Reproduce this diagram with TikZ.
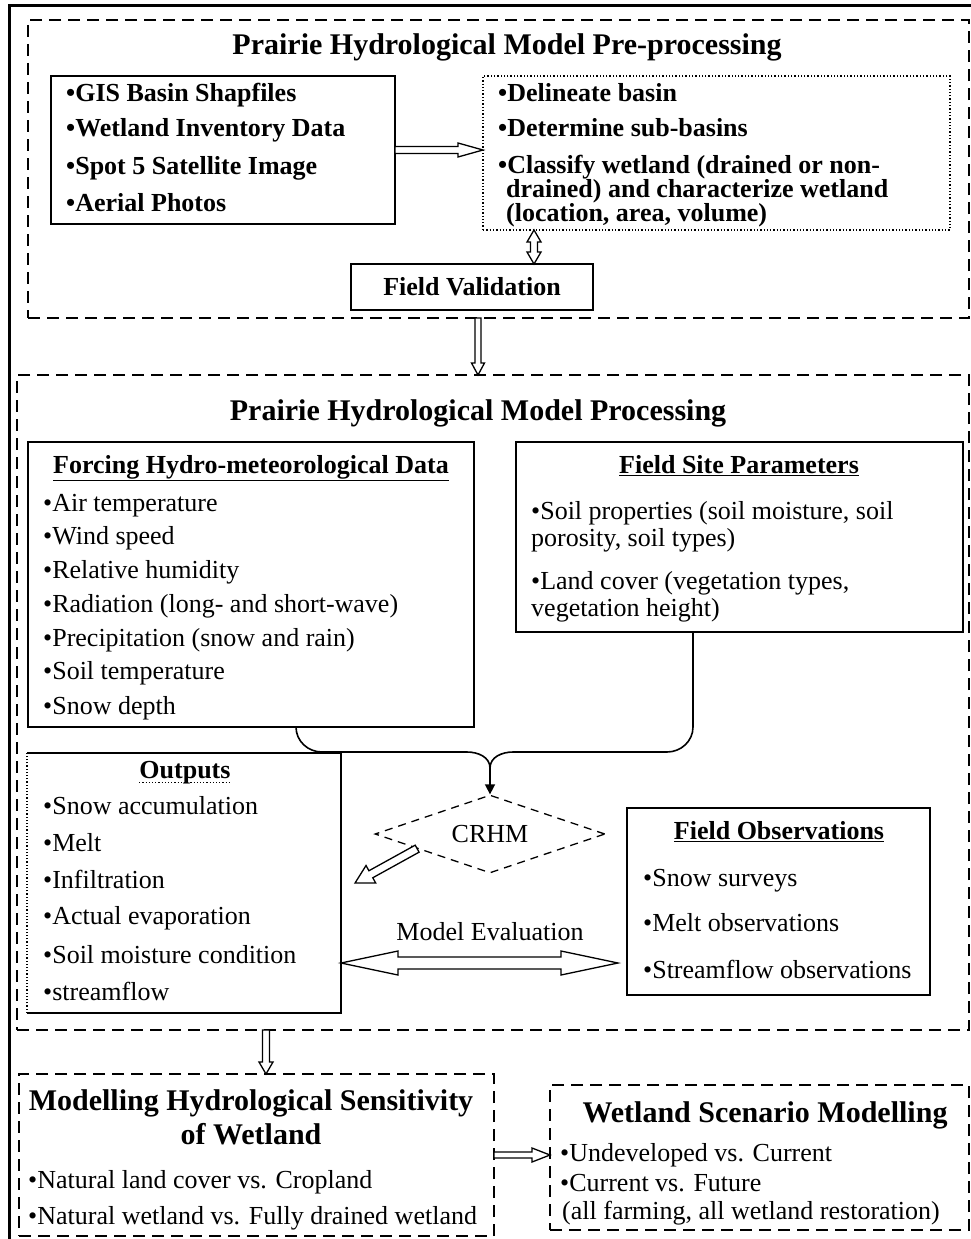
\documentclass[tikz,border=0pt]{standalone}
\usepackage{fontspec}
\setmainfont{Liberation Serif}
\usetikzlibrary{shapes.geometric,arrows.meta,calc}

\newcommand\fsA{\fontsize{26}{30}\selectfont}
\newcommand\fsT{\fontsize{30}{36}\selectfont\bfseries}
\newcommand\fsTight{\fontsize{26}{24}\selectfont\bfseries\lineskiplimit -30pt\relax}

\tikzset{
 frame/.style={draw, line width=2.4pt, dash pattern=on 12pt off 7pt, inner sep=0, outer sep=0},
 sbox/.style={draw, line width=1.5pt, inner sep=0, outer sep=0},
 dbox/.style={draw, line width=1.3pt, dotted, inner sep=0, outer sep=0},
 item/.style={anchor=west, inner sep=0, text height=18pt, text depth=5pt, font=\fsA},
 bitem/.style={item, font=\fsA\bfseries},
 ttl/.style={inner sep=0, text height=21pt, text depth=6pt, font=\fsT},
 head/.style={inner sep=0, text height=18pt, text depth=5pt, font=\fsA\bfseries},
 hol/.style={draw, line width=1.3pt, fill=white, line join=miter},
 conn/.style={draw, line width=1.6pt},
}

% hollow single arrow: from, to, shaft half width, head half width, head length
\newcommand\harrow[5]{%
 \draw[hol] let \p1=(#1), \p2=(#2), \n1={atan2(\y2-\y1,\x2-\x1)}, \n2={veclen(\x2-\x1,\y2-\y1)} in
 [shift={(\p1)}, rotate=\n1]
 (0pt,#3pt) -- ({\n2-#5pt},#3pt) -- ({\n2-#5pt},#4pt) -- (\n2,0pt)
 -- ({\n2-#5pt},-#4pt) -- ({\n2-#5pt},-#3pt) -- (0pt,-#3pt) -- cycle;}
% hollow double-headed arrow
\newcommand\hdarrow[5]{%
 \draw[hol] let \p1=(#1), \p2=(#2), \n1={atan2(\y2-\y1,\x2-\x1)}, \n2={veclen(\x2-\x1,\y2-\y1)} in
 [shift={(\p1)}, rotate=\n1]
 (0pt,0pt) -- (#5pt,#4pt) -- (#5pt,#3pt) -- ({\n2-#5pt},#3pt) -- ({\n2-#5pt},#4pt)
 -- (\n2,0pt) -- ({\n2-#5pt},-#4pt) -- ({\n2-#5pt},-#3pt) -- (#5pt,-#3pt)
 -- (#5pt,-#4pt) -- cycle;}

\begin{document}
\begin{tikzpicture}[x=1pt,y=-1pt]
\useasboundingbox (0,0) rectangle (971,1239);
\fill[white] (0,0) rectangle (971,1239);

% outer solid frame (left and top)
\draw[line width=3pt] (9,1239) -- (9,6) -- (971,6);

% helper coordinates
\coordinate (x534) at (534,0);
\coordinate (x478) at (478,0);
\coordinate (x266) at (266,0);
\coordinate (x296) at (296,0);
\coordinate (x693) at (693,0);
\coordinate (y963) at (0,963);
\coordinate (y1155) at (0,1155);

% ---------- Pre-processing ----------
\node[frame, minimum width=941pt, minimum height=298pt] (top) at (498.5,169) {};
\node[ttl] (t1) at (507,47) {Prairie Hydrological Model Pre-processing};
\node[sbox, minimum width=344pt, minimum height=148pt] (A) at (223,150) {};
\node[bitem] (a1) at (66,95) {•GIS Basin Shapfiles};
\node[bitem] (a2) at (66,130) {•Wetland Inventory Data};
\node[bitem] (a3) at (66,168) {•Spot 5 Satellite Image};
\node[bitem] (a4) at (66,205) {•Aerial Photos};
\node[dbox, minimum width=467pt, minimum height=154pt] (B) at (716.5,153) {};
\node[bitem] (b1) at (498,95) {•Delineate basin};
\node[bitem] (b2) at (498,130) {•Determine sub-basins};
\node[anchor=north west, inner sep=0, align=left, font=\fsTight] (b3) at (498,155)
  {•Classify wetland (drained or non-\\\hspace*{8pt}drained) and characterize wetland\\\hspace*{8pt}(location, area, volume)};
\node[sbox, minimum width=242pt, minimum height=46pt] (FV) at (472,287) {};
\node[head] (fvt) at (472,289) {Field Validation};

\harrow{A.east}{A.east -| B.west}{3.5}{7}{25}
\hdarrow{FV.north -| x534}{B.south -| x534}{3.5}{7}{12}

% ---------- Processing ----------
\node[frame, minimum width=952pt, minimum height=655pt] (M) at (493,702.5) {};
\harrow{top.south -| x478}{M.north -| x478}{3}{6.5}{12}
\node[ttl] (t2) at (478,413) {Prairie Hydrological Model Processing};

\node[sbox, minimum width=446pt, minimum height=285pt] (F) at (251,584.5) {};
\node[head] (fh) at (251,467) {\underline{Forcing Hydro-meteorological Data}};
\node[item] (f1) at (43,505) {•Air temperature};
\node[item] (f2) at (43,538) {•Wind speed};
\node[item] (f3) at (43,572) {•Relative humidity};
\node[item] (f4) at (43,606) {•Radiation (long- and short-wave)};
\node[item] (f5) at (43,640) {•Precipitation (snow and rain)};
\node[item] (f6) at (43,673) {•Soil temperature};
\node[item] (f7) at (43,708) {•Snow depth};

\node[sbox, minimum width=447pt, minimum height=190pt] (S) at (739.5,537) {};
\node[head] (sh) at (739,467) {\underline{Field Site Parameters}};
\node[item] (s1) at (531,513) {•Soil properties (soil moisture, soil};
\node[item] (s2) at (531,540) {porosity, soil types)};
\node[item] (s3) at (531,583) {•Land cover (vegetation types,};
\node[item] (s4) at (531,610) {vegetation height)};

% CRHM
\node[diamond, draw, line width=1.3pt, dash pattern=on 8pt off 6pt, minimum width=230pt,
      minimum height=78pt, aspect=2.95, inner sep=0, font=\fsA] (C) at (490,834) {CRHM};
\coordinate (mg) at (490,768);
\draw[conn] (F.south -| x296) to[out=-90,in=180] (322,752) -- (467,752) to[out=0,in=90] (mg);
\draw[conn] (S.south -| x693) -- (693,727) to[out=-90,in=0] (667,752) -- (513,752) to[out=180,in=90] (mg);
\draw[conn,-{Triangle[length=10pt,width=10pt]}] (mg) -- (C.north);

% Outputs
\node[minimum width=314pt, minimum height=260pt, inner sep=0, outer sep=0] (O) at (184,883) {};
\draw[line width=1.5pt] (O.north west) -- (O.north east) -- (O.south east) -- (O.south west);
\draw[line width=1.2pt, dotted] (O.south west) -- (O.north west);
\node[head] (oh) at (185,772) {Outputs};
\draw[line width=1.2pt, dotted] ($(oh.base west)+(0,4)$) -- ($(oh.base east)+(0,4)$);
\node[item] (o1) at (43,808) {•Snow accumulation};
\node[item] (o2) at (43,845) {•Melt};
\node[item] (o3) at (43,882) {•Infiltration};
\node[item] (o4) at (43,918) {•Actual evaporation};
\node[item] (o5) at (43,957) {•Soil moisture condition};
\node[item] (o6) at (43,994) {•streamflow};

\harrow{$(C.west)!0.37!(C.south)$}{$(O.east)+(14,0)$}{4}{10}{18}

% Field observations
\node[sbox, minimum width=303pt, minimum height=187pt] (FO) at (778.5,901.5) {};
\node[head] (foh) at (779,833) {\underline{Field Observations}};
\node[item] (fo1) at (643,880) {•Snow surveys};
\node[item] (fo2) at (643,925) {•Melt observations};
\node[item] (fo3) at (643,972) {•Streamflow observations};

\hdarrow{O.east |- y963}{$(FO.west |- y963)+(-9,0)$}{6}{12}{57}
\node[inner sep=0, font=\fsA] (me) at (490,932) {Model Evaluation};

% ---------- Bottom ----------
\node[frame, minimum width=475pt, minimum height=162pt] (L) at (256.5,1155) {};
\harrow{M.south -| x266}{L.north -| x266}{3.5}{7}{12}
\node[ttl] (l1) at (251,1103) {Modelling Hydrological Sensitivity};
\node[ttl] (l2) at (251,1137) {of Wetland};
\node[item] (l3) at (28,1182) {•Natural land cover vs. Cropland};
\node[item] (l4) at (28,1218) {•Natural wetland vs. Fully drained wetland};

\node[frame, minimum width=419pt, minimum height=145pt] (R) at (759.5,1157.5) {};
\node[ttl] (r1) at (765,1115) {Wetland Scenario Modelling};
\node[item] (r2) at (560,1155) {•Undeveloped vs. Current};
\node[item] (r3) at (560,1185) {•Current vs. Future};
\node[item] (r4) at (562,1213) {(all farming, all wetland restoration)};

\harrow{L.east |- y1155}{R.west |- y1155}{3}{7}{18}
\end{tikzpicture}
\end{document}
